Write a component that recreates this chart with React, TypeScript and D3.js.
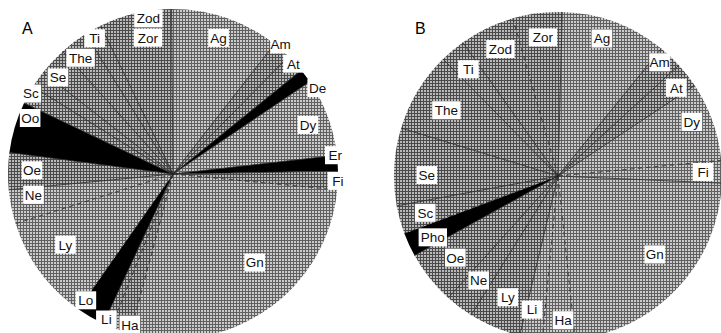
import * as d3 from "d3";

// slices of each pie, clockwise from the top, share in degrees
const namesA = ["Ag", "Am", "At", "De", "Dy", "Er", "Fi", "Gn", "Ha", "Li", "Lo", "Ly", "Ne", "Oe", "Oo", "Sc", "Se", "The", "Ti", "Zod", "Zor"];
const valuesA = [38.5, 6.5, 6.5, 5, 27.5, 5.5, 6.5, 99.5, 7, 3, 10, 37.5, 12, 13, 18, 6.5, 6, 10, 10, 6, 25.5];
const blackA = ["De", "Er", "Lo", "Oo"];

const namesB = ["Ag", "Am", "At", "Dy", "Fi", "Gn", "Ha", "Li", "Ly", "Ne", "Oe", "Pho", "Sc", "Se", "The", "Ti", "Zod", "Zor"];
const valuesB = [37.5, 8.5, 9, 28, 8, 81.5, 11.5, 8, 18.5, 10, 19, 8.5, 10, 27.5, 28.5, 9, 19.5, 17.5];
const blackB = ["Pho"];

// layout / style (not data)
const dashedA = ["Gn", "Ha", "Li", "Ly", "Ne"];
const dashedB = ["Fi", "Li", "Ha", "Sc", "Zor"];
const darkA = ["Zod", "Zor", "Ti", "The", "Se", "Sc", "At", "Am", "Oe", "Ha", "Li", "Fi"];
const darkB = ["Zod", "Zor", "Ti", "The", "Se", "Sc", "Oe", "Ne", "Ly", "Am", "At"];

// label placement: [angle in degrees, radius as a fraction of r]
const labelPosA: Record<string, [number, number]> = {
  Ag: [18.5, 0.87], Am: [39.7, 1.02], At: [47.5, 0.99], De: [59.3, 1.02], Dy: [70, 0.87],
  Er: [83.4, 0.99], Fi: [92.4, 1.0], Gn: [137.3, 0.73], Ha: [196, 0.95], Li: [204.6, 0.97],
  Lo: [214.6, 0.93], Ly: [236.7, 0.78], Ne: [261.5, 0.855], Oe: [271.5, 0.855], Oo: [291.4, 0.93],
  Sc: [299.5, 0.99], Se: [310, 0.91], The: [321.5, 0.9], Ti: [330, 0.95], Zod: [351, 0.955], Zor: [349.6, 0.84],
};
const labelPosB: Record<string, [number, number]> = {
  Ag: [17.7, 0.88], Am: [41.8, 0.93], At: [53.3, 0.9], Dy: [68, 0.88], Fi: [88.4, 0.885],
  Gn: [129, 0.76], Ha: [178, 0.88], Li: [191, 0.83], Ly: [202.5, 0.8], Ne: [217.2, 0.8],
  Oe: [231.5, 0.8], Pho: [243.9, 0.85], Sc: [254.5, 0.84], Se: [270.4, 0.8], The: [300.5, 0.79],
  Ti: [320, 0.85], Zod: [335.6, 0.85], Zor: [353.8, 0.85],
};

const rad = (deg: number) => (deg * Math.PI) / 180;

type PieProps = {
  title: string;
  names: string[];
  values: number[];
  black: string[];
  dashed: string[];
  dark: string[];
  labelPos: Record<string, [number, number]>;
  cx: number;
  cy: number;
  r: number;
  start: number;
  titleX: number;
};

const Pie = (p: PieProps) => {
  const pie = d3
    .pie<number>()
    .sort(null)
    .value((d) => d)
    .startAngle(rad(p.start))
    .endAngle(rad(p.start) + Math.PI * 2);
  const arcs = pie(p.values);
  const arc = d3.arc<d3.PieArcDatum<number>>().innerRadius(0).outerRadius(p.r);

  return (
    <g>
      <text x={p.titleX} y={34} fontSize={16} fontFamily="Liberation Sans, Arial, sans-serif">
        {p.title}
      </text>
      <g transform={`translate(${p.cx},${p.cy})`}>
        {arcs.map((a, i) => {
          const name = p.names[i];
          const fill = p.black.includes(name) ? "#000" : p.dark.includes(name) ? "url(#gridDark)" : "url(#grid)";
          return <path key={name} d={arc(a) || ""} fill={fill} />;
        })}
        {arcs.map((a, i) => {
          const name = p.names[i];
          return (
            <line
              key={"l" + name}
              x1={0}
              y1={0}
              x2={p.r * Math.sin(a.startAngle)}
              y2={-p.r * Math.cos(a.startAngle)}
              stroke="#222"
              strokeWidth={0.8}
              strokeDasharray={p.dashed.includes(name) ? "5,3" : undefined}
            />
          );
        })}
        {arcs.map((a, i) => {
          const name = p.names[i];
          const mid = ((a.startAngle + a.endAngle) / 2) * (180 / Math.PI);
          const [ang, rf] = p.labelPos[name] || [mid, 0.86];
          const lx = p.r * rf * Math.sin(rad(ang));
          const ly = -p.r * rf * Math.cos(rad(ang));
          const w = name.length * 7.8 + 5;
          return (
            <g key={"t" + name} transform={`translate(${lx},${ly})`}>
              <rect x={-w / 2} y={-9} width={w} height={18} fill="#fff" />
              <text
                textAnchor="middle"
                dy="0.36em"
                fontSize={13.5}
                fontFamily="Liberation Sans, Arial, sans-serif"
                fill="#111"
              >
                {name}
              </text>
            </g>
          );
        })}
      </g>
    </g>
  );
};

export default function App() {
  return (
    <svg width={721} height={333} style={{ position: "absolute", left: 0, top: 0, background: "#fff" }}>
      <defs>
        <pattern id="grid" width={3} height={3} patternUnits="userSpaceOnUse">
          <rect width={3} height={3} fill="#cbcbcb" />
          <path d="M0 0.5H3M0.5 0V3" stroke="#606060" strokeWidth={1} />
        </pattern>
        <pattern id="gridDark" width={3} height={3} patternUnits="userSpaceOnUse">
          <rect width={3} height={3} fill="#b9b9b9" />
          <path d="M0 0.5H3M0.5 0V3" stroke="#4a4a4a" strokeWidth={1} />
        </pattern>
      </defs>
      <Pie
        title="A"
        names={namesA}
        values={valuesA}
        black={blackA}
        dashed={dashedA}
        dark={darkA}
        labelPos={labelPosA}
        cx={173}
        cy={174}
        r={165}
        start={-0.5}
        titleX={22}
      />
      <Pie
        title="B"
        names={namesB}
        values={valuesB}
        black={blackB}
        dashed={dashedB}
        dark={darkB}
        labelPos={labelPosB}
        cx={558}
        cy={176}
        r={164}
        start={1.5}
        titleX={415}
      />
    </svg>
  );
}
